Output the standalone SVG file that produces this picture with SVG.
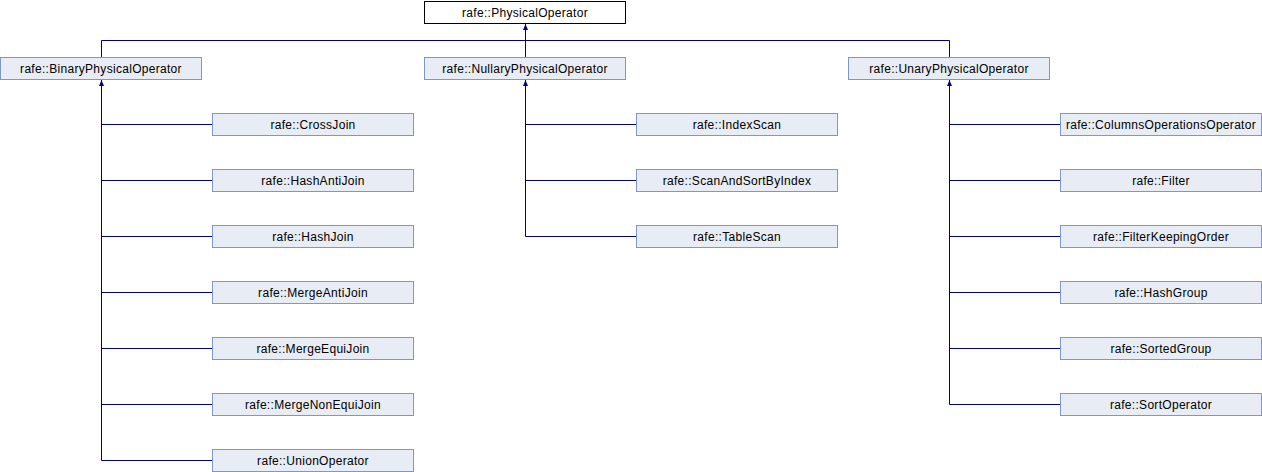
<svg xmlns="http://www.w3.org/2000/svg" width="1262" height="472" viewBox="0 0 1262 472">
<style>
.n rect{fill:#E8ECF4;stroke:#7D97C9;stroke-width:1}
.root rect{fill:#FFFFFF;stroke:#000000;stroke-width:1}
text{font-family:"Liberation Sans",Arial,sans-serif;font-size:12px;letter-spacing:0.3px;text-anchor:middle;fill:#000}
.e{fill:none;stroke:#000080;stroke-width:1}
</style>
<defs>
<marker id="ah" markerWidth="6" markerHeight="6" refX="6" refY="3" orient="auto" markerUnits="userSpaceOnUse" viewBox="0 0 6 6">
<path d="M0,0.5 L6,3 L0,5.5 Z" fill="#000080"/>
</marker>
</defs>
<rect width="1262" height="472" fill="#fff"/>
<g id="connectors">
<path class="e" d="M101.5,57 V40.5 H949.5 V57"/>
<path class="e" d="M525.5,57 V24" marker-end="url(#ah)"/>
<path class="e" d="M101.5,460.5 V80" marker-end="url(#ah)"/>
<path class="e" d="M101.5,124.5 H212 M101.5,180.5 H212 M101.5,236.5 H212 M101.5,292.5 H212 M101.5,348.5 H212 M101.5,404.5 H212 M101.5,460.5 H212"/>
<path class="e" d="M525.5,236.5 V80" marker-end="url(#ah)"/>
<path class="e" d="M525.5,124.5 H636 M525.5,180.5 H636 M525.5,236.5 H636"/>
<path class="e" d="M949.5,404.5 V80" marker-end="url(#ah)"/>
<path class="e" d="M949.5,124.5 H1060 M949.5,180.5 H1060 M949.5,236.5 H1060 M949.5,292.5 H1060 M949.5,348.5 H1060 M949.5,404.5 H1060"/>
</g>
<g id="PhysicalOperator" class="root"><rect x="424.5" y="1.5" width="201" height="22"/><text x="525" y="16.5">rafe::PhysicalOperator</text></g>
<g id="BinaryPhysicalOperator" class="n"><rect x="0.5" y="57.5" width="201" height="22"/><text x="101" y="72.5">rafe::BinaryPhysicalOperator</text></g>
<g id="NullaryPhysicalOperator" class="n"><rect x="424.5" y="57.5" width="201" height="22"/><text x="525" y="72.5">rafe::NullaryPhysicalOperator</text></g>
<g id="UnaryPhysicalOperator" class="n"><rect x="848.5" y="57.5" width="201" height="22"/><text x="949" y="72.5">rafe::UnaryPhysicalOperator</text></g>
<g id="CrossJoin" class="n"><rect x="212.5" y="113.5" width="201" height="22"/><text x="313" y="128.5">rafe::CrossJoin</text></g>
<g id="HashAntiJoin" class="n"><rect x="212.5" y="169.5" width="201" height="22"/><text x="313" y="184.5">rafe::HashAntiJoin</text></g>
<g id="HashJoin" class="n"><rect x="212.5" y="225.5" width="201" height="22"/><text x="313" y="240.5">rafe::HashJoin</text></g>
<g id="MergeAntiJoin" class="n"><rect x="212.5" y="281.5" width="201" height="22"/><text x="313" y="296.5">rafe::MergeAntiJoin</text></g>
<g id="MergeEquiJoin" class="n"><rect x="212.5" y="337.5" width="201" height="22"/><text x="313" y="352.5">rafe::MergeEquiJoin</text></g>
<g id="MergeNonEquiJoin" class="n"><rect x="212.5" y="393.5" width="201" height="22"/><text x="313" y="408.5">rafe::MergeNonEquiJoin</text></g>
<g id="UnionOperator" class="n"><rect x="212.5" y="449.5" width="201" height="22"/><text x="313" y="464.5">rafe::UnionOperator</text></g>
<g id="IndexScan" class="n"><rect x="636.5" y="113.5" width="201" height="22"/><text x="737" y="128.5">rafe::IndexScan</text></g>
<g id="ScanAndSortByIndex" class="n"><rect x="636.5" y="169.5" width="201" height="22"/><text x="737" y="184.5">rafe::ScanAndSortByIndex</text></g>
<g id="TableScan" class="n"><rect x="636.5" y="225.5" width="201" height="22"/><text x="737" y="240.5">rafe::TableScan</text></g>
<g id="ColumnsOperationsOperator" class="n"><rect x="1060.5" y="113.5" width="201" height="22"/><text x="1161" y="128.5">rafe::ColumnsOperationsOperator</text></g>
<g id="Filter" class="n"><rect x="1060.5" y="169.5" width="201" height="22"/><text x="1161" y="184.5">rafe::Filter</text></g>
<g id="FilterKeepingOrder" class="n"><rect x="1060.5" y="225.5" width="201" height="22"/><text x="1161" y="240.5">rafe::FilterKeepingOrder</text></g>
<g id="HashGroup" class="n"><rect x="1060.5" y="281.5" width="201" height="22"/><text x="1161" y="296.5">rafe::HashGroup</text></g>
<g id="SortedGroup" class="n"><rect x="1060.5" y="337.5" width="201" height="22"/><text x="1161" y="352.5">rafe::SortedGroup</text></g>
<g id="SortOperator" class="n"><rect x="1060.5" y="393.5" width="201" height="22"/><text x="1161" y="408.5">rafe::SortOperator</text></g>
</svg>
